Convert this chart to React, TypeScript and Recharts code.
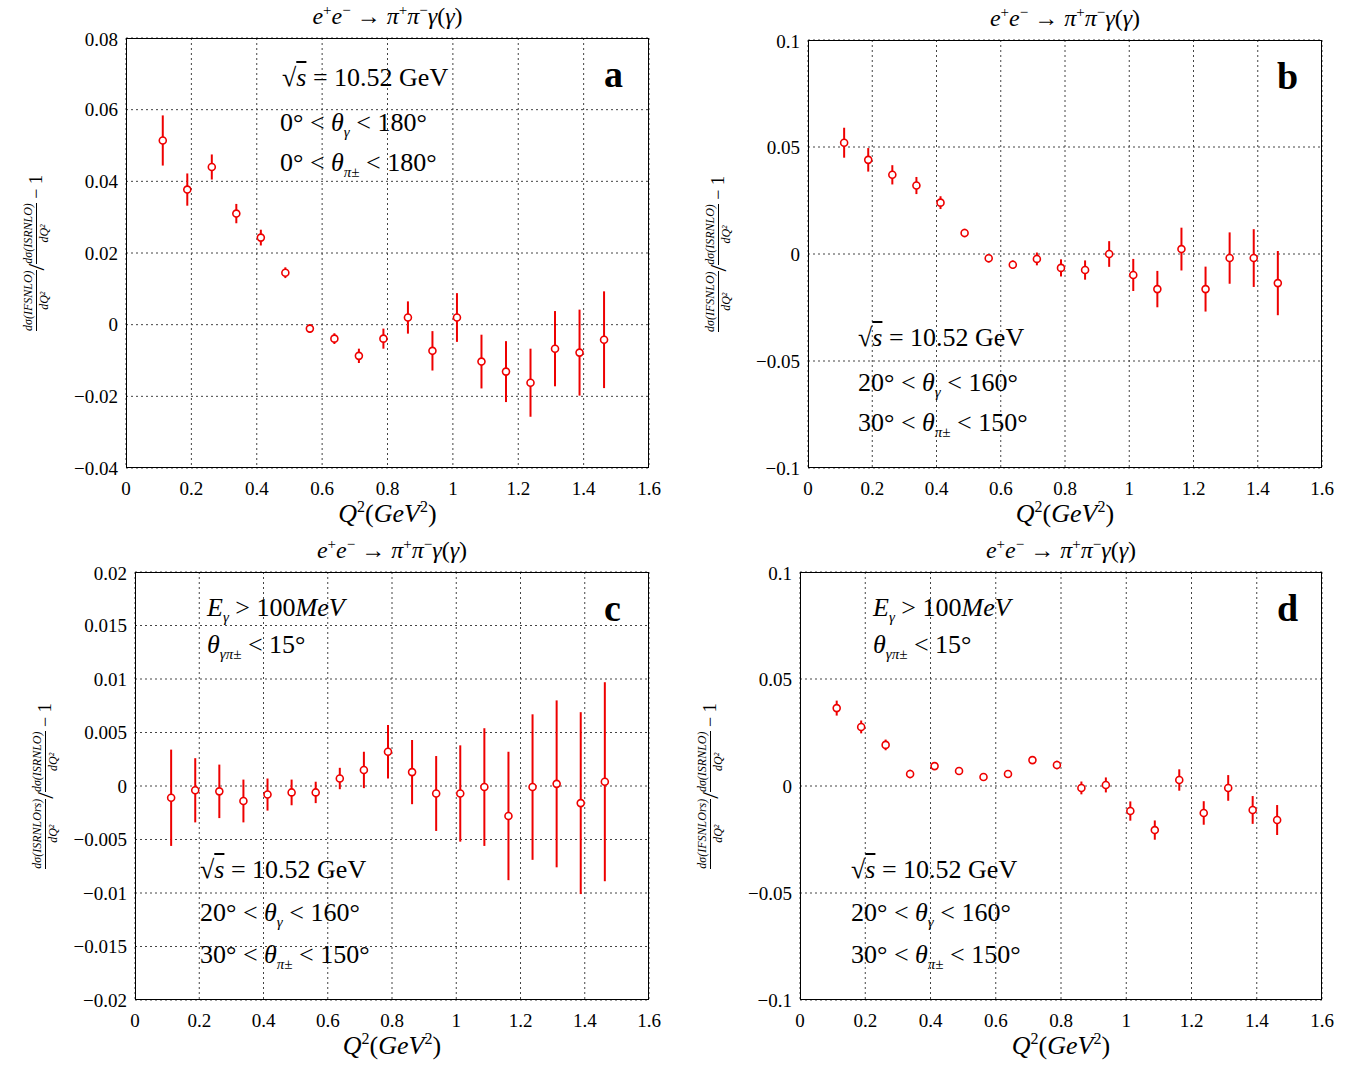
import React from "react";
import { ScatterChart, Scatter, XAxis, YAxis, CartesianGrid, ErrorBar } from "recharts";

const qBins = [0.1125, 0.1875, 0.2625, 0.3375, 0.4125, 0.4875, 0.5625, 0.6375, 0.7125, 0.7875, 0.8625, 0.9375, 1.0125, 1.0875, 1.1625, 1.2375, 1.3125, 1.3875, 1.4625];

const aVals = [0.0514, 0.0377, 0.044, 0.031, 0.0243, 0.0145, -0.0011, -0.0039, -0.0087, -0.0039, 0.002, -0.0073, 0.002, -0.0103, -0.0131, -0.0162, -0.0067, -0.0078, -0.0042];
const aErrs = [0.007, 0.0045, 0.0035, 0.0027, 0.0022, 0.0015, 0.0012, 0.0015, 0.002, 0.0028, 0.0045, 0.0055, 0.0068, 0.0075, 0.0085, 0.0095, 0.0105, 0.012, 0.0135];

const bVals = [0.052, 0.044, 0.037, 0.032, 0.024, 0.0098, -0.002, -0.005, -0.0023, -0.0065, -0.0075, 0, -0.0098, -0.0164, 0.0023, -0.0164, -0.0019, -0.0019, -0.0136];
const bErrs = [0.007, 0.0055, 0.0045, 0.004, 0.003, 0.002, 0.002, 0.002, 0.003, 0.004, 0.0045, 0.006, 0.0075, 0.0085, 0.01, 0.0105, 0.012, 0.0135, 0.015];

const cVals = [-0.0011, -0.0004, -0.0005, -0.0014, -0.0008, -0.0006, -0.0006, 0.0007, 0.0015, 0.0032, 0.0013, -0.0007, -0.0007, -0.0001, -0.0028, -0.0001, 0.0002, -0.0016, 0.0004];
const cErrs = [0.0045, 0.003, 0.0025, 0.002, 0.0015, 0.0012, 0.001, 0.001, 0.0017, 0.0025, 0.003, 0.0035, 0.0045, 0.0055, 0.006, 0.0068, 0.0078, 0.0085, 0.0093];

const dVals = [0.0364, 0.0276, 0.0192, 0.0056, 0.0093, 0.007, 0.0042, 0.0056, 0.0121, 0.0098, -0.0009, 0.0005, -0.0117, -0.0206, 0.0028, -0.0126, -0.0009, -0.0112, -0.0159];
const dErrs = [0.0035, 0.003, 0.0025, 0.002, 0.0015, 0.0012, 0.001, 0.001, 0.0017, 0.002, 0.003, 0.0035, 0.0045, 0.0045, 0.005, 0.0055, 0.006, 0.0065, 0.007];

const xTicks = [0, 0.2, 0.4, 0.6, 0.8, 1, 1.2, 1.4, 1.6];
const aTicks = [-0.04, -0.02, 0, 0.02, 0.04, 0.06, 0.08];
const bTicks = [-0.1, -0.05, 0, 0.05, 0.1];
const cTicks = [-0.02, -0.015, -0.01, -0.005, 0, 0.005, 0.01, 0.015, 0.02];

const SERIF = "'Liberation Serif', 'DejaVu Serif', serif";
const fmt = (v: number) => (v < 0 ? "\u2212" + String(-v) : String(v));

const Ring = (p: any) => (
  <circle cx={p.cx} cy={p.cy} r={3.5} fill="white" stroke="#e00" strokeWidth={1.6} />
);

const Sqrt = () => (
  <span>
    √<span style={{ textDecoration: "overline", fontStyle: "italic" }}>s</span> = 10.52 GeV
  </span>
);
const Th = ({ sub }: { sub: string }) => (
  <span>
    <i>θ</i>
    <sub style={{ fontSize: 15, fontStyle: "italic" }}>{sub}</sub>
  </span>
);

const Frac = ({ top }: { top: string }) => (
  <span style={{ display: "inline-flex", flexDirection: "column", alignItems: "center", verticalAlign: "middle", fontSize: 12, fontStyle: "italic" }}>
    <span style={{ borderBottom: "1px solid black" }}>dσ({top})</span>
    <span>dQ²</span>
  </span>
);

interface PanelProps {
  left: number;
  top: number;
  w: number;
  h: number;
  vals: number[];
  errs: number[];
  domain: [number, number];
  ticks: number[];
  numer: string;
  letter: string;
}

function Panel({ left, top, w, h, vals, errs, domain, ticks, numer, letter }: PanelProps) {
  const data = qBins.map((q, i) => ({ q, v: vals[i], e: errs[i] }));
  const yw = 70;
  return (
    <>
      <div style={{ position: "absolute", left: left - yw - 10, top: top - 10 }}>
        <ScatterChart width={w + yw + 40} height={h + 50} margin={{ top: 10, left: 10, right: 30, bottom: 10 }}>
          <CartesianGrid stroke="#444" strokeDasharray="2 3" />
          <XAxis type="number" dataKey="q" domain={[0, 1.6]} ticks={xTicks} height={30} tickLine={false} axisLine={false}
            tick={{ fontSize: 19, fill: "#000", fontFamily: SERIF, dy: 6 }} tickFormatter={fmt} />
          <YAxis type="number" dataKey="v" domain={domain} ticks={ticks} width={yw} tickLine={false} axisLine={false}
            tick={{ fontSize: 19, fill: "#000", fontFamily: SERIF }} tickFormatter={fmt} />
          <Scatter data={data} shape={Ring} isAnimationActive={false}>
            <ErrorBar dataKey="e" direction="y" width={0} stroke="#e00" strokeWidth={2} />
          </Scatter>
        </ScatterChart>
      </div>
      <div style={{ position: "absolute", left, top, width: w, height: h, border: "1.5px solid #000", boxSizing: "border-box", pointerEvents: "none" }} />
      <div style={{ position: "absolute", left, width: w, top: top - 36, textAlign: "center", fontSize: 24 }}>
        <i>e</i><sup style={{ fontSize: 15 }}>+</sup><i>e</i><sup style={{ fontSize: 15 }}>−</sup> → <i>π</i><sup style={{ fontSize: 15 }}>+</sup><i>π</i><sup style={{ fontSize: 15 }}>−</sup><i>γ</i>(<i>γ</i>)
      </div>
      <div style={{ position: "absolute", left, width: w, top: top + h + 30, textAlign: "center", fontSize: 26 }}>
        <i>Q</i><sup style={{ fontSize: 16 }}>2</sup>(<i>GeV</i><sup style={{ fontSize: 16 }}>2</sup>)
      </div>
      <div style={{ position: "absolute", left: left - 230 - 90, top: top + h / 2 - 20, width: 460, height: 40, transform: "rotate(-90deg)", display: "flex", alignItems: "center", justifyContent: "center", fontSize: 18, whiteSpace: "nowrap" }}>
        <Frac top={numer} /><span style={{ fontSize: 24 }}>/</span><Frac top="ISRNLO" /><span>&nbsp;− 1</span>
      </div>
      <div style={{ position: "absolute", left: left + w - 45, top: top + 14, fontSize: 38, fontWeight: "bold" }}>{letter}</div>
    </>
  );
}

const Txt = ({ x, y, children }: { x: number; y: number; children: React.ReactNode }) => (
  <div style={{ position: "absolute", left: x, top: y - 17, fontSize: 26, whiteSpace: "nowrap" }}>{children}</div>
);

export default function App() {
  return (
    <div style={{ position: "absolute", left: 0, top: 0, width: 1362, height: 1069, background: "#fff", fontFamily: SERIF }}>
      <Panel left={126} top={38} w={523} h={430} vals={aVals} errs={aErrs} domain={[-0.04, 0.08]} ticks={aTicks} numer="IFSNLO" letter="a" />
      <Panel left={808} top={40} w={514} h={428} vals={bVals} errs={bErrs} domain={[-0.1, 0.1]} ticks={bTicks} numer="IFSNLO" letter="b" />
      <Panel left={135} top={572} w={514} h={428} vals={cVals} errs={cErrs} domain={[-0.02, 0.02]} ticks={cTicks} numer="ISRNLOrs" letter="c" />
      <Panel left={800} top={572} w={522} h={428} vals={dVals} errs={dErrs} domain={[-0.1, 0.1]} ticks={bTicks} numer="IFSNLOrs" letter="d" />

      <Txt x={282} y={80}><Sqrt /></Txt>
      <Txt x={280} y={125}>0° &lt; <Th sub="γ" /> &lt; 180°</Txt>
      <Txt x={280} y={165}>0° &lt; <Th sub="π±" /> &lt; 180°</Txt>

      <Txt x={858} y={340}><Sqrt /></Txt>
      <Txt x={858} y={385}>20° &lt; <Th sub="γ" /> &lt; 160°</Txt>
      <Txt x={858} y={425}>30° &lt; <Th sub="π±" /> &lt; 150°</Txt>

      <Txt x={207} y={610}><i>E</i><sub style={{ fontSize: 15 }}><i>γ</i></sub> &gt; 100<i>MeV</i></Txt>
      <Txt x={207} y={647}><Th sub="γπ±" /> &lt; 15°</Txt>
      <Txt x={200} y={872}><Sqrt /></Txt>
      <Txt x={200} y={915}>20° &lt; <Th sub="γ" /> &lt; 160°</Txt>
      <Txt x={200} y={957}>30° &lt; <Th sub="π±" /> &lt; 150°</Txt>

      <Txt x={873} y={610}><i>E</i><sub style={{ fontSize: 15 }}><i>γ</i></sub> &gt; 100<i>MeV</i></Txt>
      <Txt x={873} y={647}><Th sub="γπ±" /> &lt; 15°</Txt>
      <Txt x={851} y={872}><Sqrt /></Txt>
      <Txt x={851} y={915}>20° &lt; <Th sub="γ" /> &lt; 160°</Txt>
      <Txt x={851} y={957}>30° &lt; <Th sub="π±" /> &lt; 150°</Txt>
    </div>
  );
}
